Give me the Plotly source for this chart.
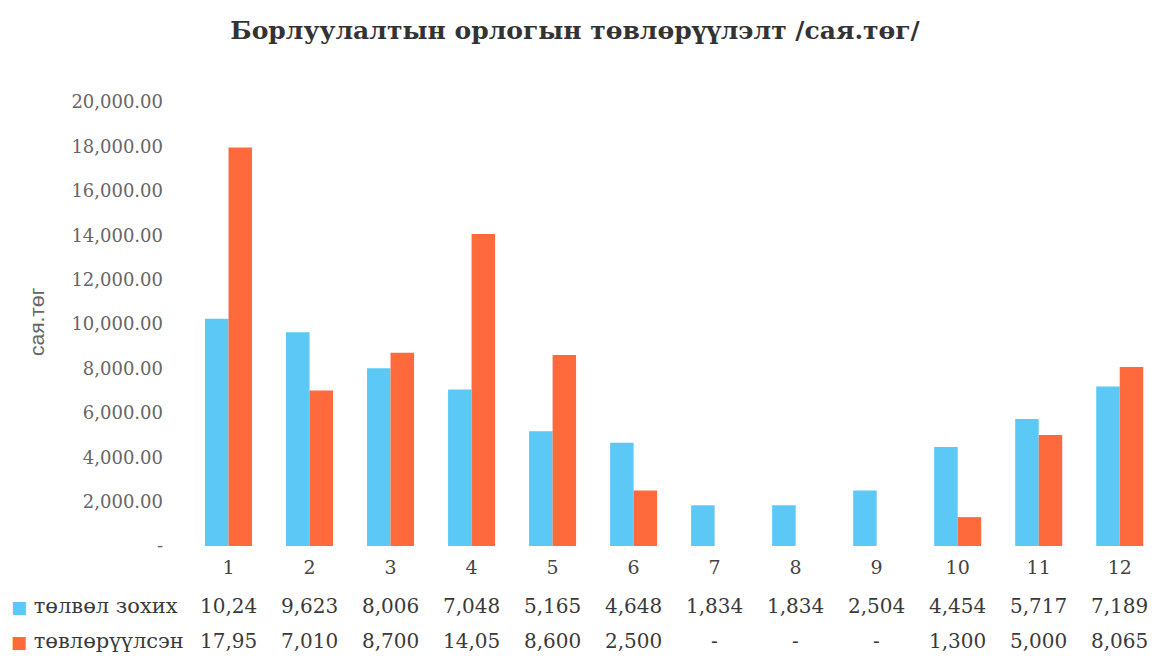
import plotly.graph_objects as go

months = [1, 2, 3, 4, 5, 6, 7, 8, 9, 10, 11, 12]
planned = [10240, 9623, 8006, 7048, 5165, 4648, 1834, 1834, 2504, 4454, 5717, 7189]
collected = [17950, 7010, 8700, 14050, 8600, 2500, None, None, None, 1300, 5000, 8065]
series_names = ["төлвөл зохих", "төвлөрүүлсэн"]
colors = ["#5BC8F5", "#FF6A3D"]
y_ticks = [0, 2000, 4000, 6000, 8000, 10000, 12000, 14000, 16000, 18000, 20000]

serif = "DejaVu Serif"
text_col = "#3a3a3a"


def cell(v):
    # the table cells in the original are clipped to 5 characters
    if v is None:
        return "-"
    return f"{v:,.0f}"[:5]


fig = go.Figure()
for name, vals, c in zip(series_names, [planned, collected], colors):
    fig.add_trace(go.Bar(
        x=months, y=[v if v is not None else 0 for v in vals],
        name=name, marker_color=c, marker_line_width=0,
    ))

# data table under the axis
row_y = [-0.135, -0.214]
for vals, name, c, ry in zip([planned, collected], series_names, colors, row_y):
    fig.add_annotation(
        x=-0.1845, xref="paper", xanchor="left",
        y=ry, yref="paper", yanchor="middle", showarrow=False,
        text=f"<span style='color:{c};font-size:17px'>■</span> {name}",
        font=dict(family=serif, size=21, color=text_col),
    )
    for m, v in zip(months, vals):
        fig.add_annotation(
            x=m, xref="x", y=ry, yref="paper", yanchor="middle",
            showarrow=False, text=cell(v),
            font=dict(family=serif, size=20, color=text_col),
        )

# y axis title
fig.add_annotation(
    x=-0.1695, xref="paper", y=0.505, yref="paper", textangle=-90,
    showarrow=False, text="сая.төг",
    font=dict(family="Liberation Sans", size=21, color="#666666"),
)

fig.update_layout(
    width=1149, height=649,
    margin=dict(l=180, r=0, t=94, b=111),
    paper_bgcolor="white", plot_bgcolor="white",
    barmode="group", bargap=0.42, bargroupgap=0,
    showlegend=False,
    title=dict(
        text="<b>Борлуулалтын орлогын төвлөрүүлэлт /сая.төг/</b>",
        xref="container", x=0.4935, xanchor="center",
        yref="container", y=0.966, yanchor="middle",
        font=dict(family=serif, size=25, color="#333333"),
    ),
)
fig.update_xaxes(
    range=[0.5, 12.46], tickvals=months, ticktext=[str(m) for m in months],
    showgrid=False, showline=False, zeroline=False, ticks="",
    ticklabelstandoff=8,
    tickfont=dict(family=serif, size=19, color="#444444"),
)
fig.update_yaxes(
    range=[0, 20000], tickvals=y_ticks,
    ticktext=["-" if t == 0 else f"{t:,.2f}" for t in y_ticks],
    showgrid=False, showline=False, zeroline=False, ticks="",
    ticklabelstandoff=24,
    tickfont=dict(family=serif, size=18, color="#666666"),
)

fig.write_html("out.html")
